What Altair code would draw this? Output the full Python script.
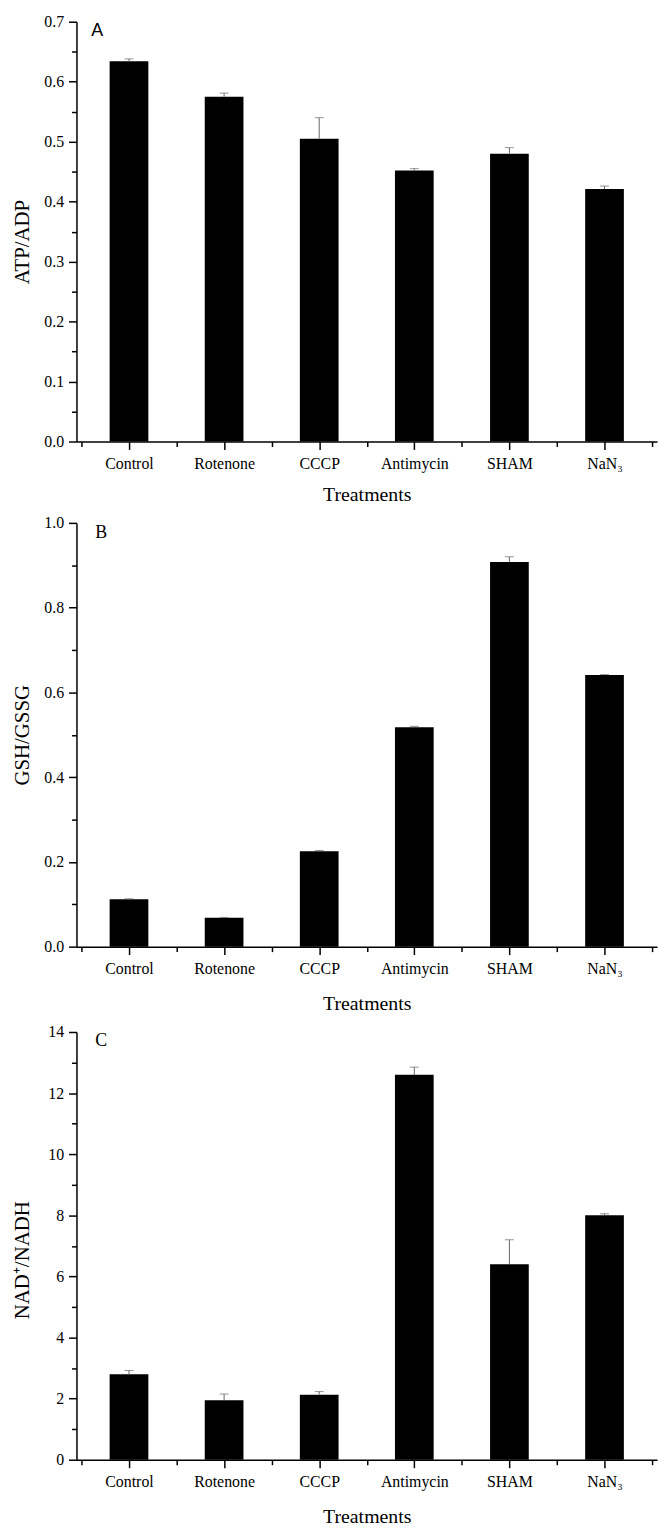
import altair as alt
import pandas as pd

treatments = ["Control", "Rotenone", "CCCP", "Antimycin", "SHAM", "NaN\u2083"]
atp_adp = [0.634, 0.575, 0.505, 0.452, 0.480, 0.421]
atp_err = [0.004, 0.006, 0.035, 0.003, 0.010, 0.005]
gsh_gssg = [0.112, 0.068, 0.225, 0.518, 0.908, 0.641]
gsh_err = [0.001, 0.001, 0.002, 0.002, 0.012, 0.001]
nad_nadh = [2.80, 1.95, 2.13, 12.60, 6.40, 8.00]
nad_err = [0.12, 0.20, 0.10, 0.25, 0.80, 0.05]

label_expr = "[" + ",".join("'%s'" % t for t in treatments) + "][round(datum.value)]"
SERIF = "Liberation Serif"
W = 585


def panel(values, errs, ytitle, letter, letter_font, letter_x, letter_y, ymax, major, minor,
          h, title_dy, xtitle_pad):
    df = pd.DataFrame({
        "idx": list(range(len(treatments))),
        "name": treatments,
        "value": values,
        "hi": [v + e for v, e in zip(values, errs)],
    })
    xscale = alt.Scale(domain=[-0.5, 5.5], nice=False, zero=False)
    yscale = alt.Scale(domain=[0, ymax], nice=False)
    base = alt.Chart(df)
    bars = base.mark_bar(size=39, color="black").encode(
        x=alt.X("idx:Q", scale=xscale,
                axis=alt.Axis(orient="bottom", values=list(range(6)), labelExpr=label_expr,
                              title="Treatments", tickSize=8, labelPadding=6,
                              titlePadding=xtitle_pad, grid=False)),
        y=alt.Y("value:Q", scale=yscale,
                axis=alt.Axis(orient="left", values=major, title=ytitle, tickSize=8,
                              labelPadding=5, grid=False, titleX=-44, titleFontSize=21,
                              titleY=h / 2 + title_dy)),
    )
    rules = base.mark_rule(color="#666666", strokeWidth=1).encode(
        x=alt.X("idx:Q", scale=xscale,
                axis=alt.Axis(orient="bottom", values=[i - 0.5 for i in range(7)],
                              labels=False, domain=False, tickSize=5, title=None, grid=False)),
        y=alt.Y("value:Q", scale=yscale,
                axis=alt.Axis(orient="left", values=minor, labels=False, domain=False,
                              tickSize=5, title=None, grid=False)),
        y2="hi:Q",
    )
    caps = base.mark_tick(color="#666666", thickness=1, size=9, orient="horizontal").encode(
        x=alt.X("idx:Q", scale=xscale, axis=None),
        y=alt.Y("hi:Q", scale=yscale, axis=None),
    )
    lab = alt.Chart(pd.DataFrame({"t": [letter]})).mark_text(
        font=letter_font, fontSize=18, align="left", baseline="alphabetic", color="black"
    ).encode(x=alt.value(letter_x), y=alt.value(letter_y), text="t:N")
    return alt.layer(bars, rules, caps, lab).resolve_axis(x="independent", y="independent").properties(
        width=W, height=h)


a = panel(atp_adp, atp_err, "ATP/ADP", "A", "Liberation Sans", 15, 14, 0.7,
          [0.0, 0.1, 0.2, 0.3, 0.4, 0.5, 0.6, 0.7],
          [0.05, 0.15, 0.25, 0.35, 0.45, 0.55, 0.65], 423, 10, 13)
b = panel(gsh_gssg, gsh_err, "GSH/GSSG", "B", SERIF, 19, 15, 1.0,
          [0.0, 0.2, 0.4, 0.6, 0.8, 1.0],
          [0.1, 0.3, 0.5, 0.7, 0.9], 427, 0, 17)
c = panel(nad_nadh, nad_err, "NAD\u207a/NADH", "C", SERIF, 19, 14, 14,
          [0, 2, 4, 6, 8, 10, 12, 14],
          [1, 3, 5, 7, 9, 11, 13], 431, 14, 17)

chart = alt.vconcat(a, b, c, spacing=11).properties(
    padding={"left": 4, "top": 0, "right": 5, "bottom": 0}
).configure_view(stroke=None).configure_axis(
    labelFont=SERIF, labelFontSize=16, labelColor="black",
    titleFont=SERIF, titleFontSize=20, titleFontWeight="normal", titleColor="black",
    domainColor="black", domainWidth=1.5, tickColor="black", tickWidth=1.5,
)

chart.save("out.html", embed_options={"renderer": "svg", "actions": False})
